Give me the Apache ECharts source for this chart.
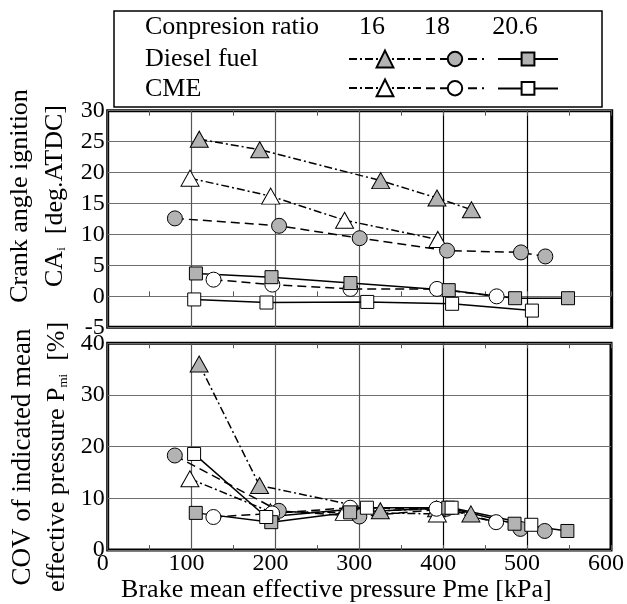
<!DOCTYPE html>
<html>
<head>
<meta charset="utf-8">
<script src="https://cdn.jsdelivr.net/npm/echarts@6/dist/echarts.min.js"></script>
<style>
  html, body { margin: 0; padding: 0; background: #fff; }
  #chart { width: 627px; height: 604px; }
</style>
</head>
<body>
<div id="chart"></div>
<script>
// Pme [kPa] of each test point, per fuel / compression ratio
const pmeD16 = [109, 181, 325, 392, 433];
const pmeC16 = [98, 194, 282, 393];
const pmeD18 = [80, 204, 300, 404, 492, 521];
const pmeC18 = [126, 196, 289, 392, 463];
const pmeD20 = [105, 195, 289, 406, 485, 548];
const pmeC20 = [103, 189, 309, 410, 505];

// crank angle of ignition CAi [deg.ATDC]
const caD16 = [25.4, 23.7, 18.7, 15.9, 14.0];
const caC16 = [19.1, 16.2, 12.3, 9.2];
const caD18 = [12.6, 11.4, 9.4, 7.4, 7.1, 6.45];
const caC18 = [2.7, 1.9, 1.2, 1.2, 0];
const caD20 = [3.7, 3.1, 2.15, 1.0, -0.3, -0.3];
const caC20 = [-0.5, -1.0, -0.9, -1.2, -2.3];

// COV of Pmi [%]
const covD16 = [36.0, 12.5, 7.6, 8.0, 7.0];
const covC16 = [13.8, 7.4, 7.3, 7.0];
const covD18 = [18.3, 7.6, 6.5, 8.0, 4.1, 3.7];
const covC18 = [6.4, 7.1, 8.2, 8.0, 5.4];
const covD20 = [7.2, 5.4, 7.3, 8.2, 5.1, 3.7];
const covC20 = [18.6, 6.4, 8.2, 8.2, 4.9];

const ratioLabels = ["16", "18", "20.6"];
const xTicks = [0, 100, 200, 300, 400, 500, 600];

const FONT = "Liberation Serif";
const GRAY = "#b3b3b3";

// 線種・マーカー（圧縮比ごと）
const styles = {
  "16": { symbol: "triangle", size: [18, 16], dash: [8, 3, 2, 3], legendW: 72, legendH: 21 },
  "18": { symbol: "circle", size: 15, dash: [9, 5], legendW: 58, legendH: 18 },
  "20.6": { symbol: "rect", size: 13, dash: "solid", legendW: 60, legendH: 16 },
};

const makeSeries = (name, ratio, fill, xs, ys, gridIdx) => {
  const st = styles[ratio];
  return {
    name: name,
    type: "line",
    xAxisIndex: gridIdx * 2,
    yAxisIndex: gridIdx,
    data: xs.map((x, i) => [x, ys[i]]),
    symbol: st.symbol,
    symbolSize: st.size,
    showAllSymbol: true,
    lineStyle: { color: "#000", width: 1.5, type: st.dash },
    itemStyle: { color: fill, borderColor: "#000", borderWidth: 1 },
    animation: false,
  };
};

const seriesDefs = [
  ["Diesel 16", "16", GRAY, pmeD16, caD16, covD16],
  ["CME 16", "16", "#fff", pmeC16, caC16, covC16],
  ["Diesel 18", "18", GRAY, pmeD18, caD18, covD18],
  ["CME 18", "18", "#fff", pmeC18, caC18, covC18],
  ["Diesel 20.6", "20.6", GRAY, pmeD20, caD20, covD20],
  ["CME 20.6", "20.6", "#fff", pmeC20, caC20, covC20],
];

const series = [];
seriesDefs.forEach((d) => series.push(makeSeries(d[0], d[1], d[2], d[3], d[4], 0)));
seriesDefs.forEach((d) => series.push(makeSeries(d[0], d[1], d[2], d[3], d[5], 1)));

// 凡例：圧縮比ごとに縦2段（Diesel / CME）
const legendLeft = [348, 425, 497];
const legends = ratioLabels.map((r, i) => {
  const st = styles[r];
  return {
    orient: "vertical",
    left: legendLeft[i],
    top: 59 - st.legendH / 2,
    padding: 0,
    itemGap: 30 - st.legendH,
    itemWidth: st.legendW,
    itemHeight: st.legendH,
    selectedMode: false,
    data: ["Diesel " + r, "CME " + r],
    formatter: () => "",
    textStyle: { fontSize: 1 },
  };
});

const xAxisFor = (gridIdx, showLabel) => [
  {
    gridIndex: gridIdx,
    type: "value",
    min: 0,
    max: 600,
    interval: 100,
    axisLine: { show: false },
    axisTick: { show: true, inside: true, length: 5, lineStyle: { color: "#555" } },
    minorTick: { show: true, splitNumber: 2, length: 5, lineStyle: { color: "#555" } },
    splitLine: {
      show: true,
      lineStyle: { color: ["#555", "#555", "#555", "#555", "#000", "#000", "#000"], width: 1.2 },
    },
    axisLabel: {
      show: showLabel,
      fontFamily: FONT,
      fontSize: 24,
      color: "#000",
      margin: 2,
      padding: [0, 10, 0, 0],
      formatter: (v) => (xTicks.includes(v) ? String(v) : ""),
    },
    name: showLabel ? "Brake mean effective pressure Pme [kPa]" : "",
    nameLocation: "middle",
    nameGap: 16,
    nameTextStyle: { fontFamily: FONT, fontSize: 26, color: "#000", padding: [0, 46, 0, 0] },
  },
  {
    gridIndex: gridIdx,
    type: "value",
    position: "top",
    min: 0,
    max: 600,
    interval: 100,
    axisLine: { show: false },
    axisTick: { show: true, inside: true, length: 5, lineStyle: { color: "#555" } },
    minorTick: { show: true, splitNumber: 2, length: 5, lineStyle: { color: "#555" } },
    splitLine: { show: false },
    axisLabel: { show: false },
  },
];

const yAxisFor = (gridIdx, min, max, interval) => ({
  gridIndex: gridIdx,
  type: "value",
  min: min,
  max: max,
  interval: interval,
  axisLine: { show: false },
  axisTick: { show: false },
  splitLine: { show: true, lineStyle: { color: "#6e6e6e", width: 1.2 } },
  axisLabel: { fontFamily: FONT, fontSize: 24, color: "#000", margin: 3 },
});

const textEl = (text, x, y, opts = {}) => ({
  type: "text",
  x: x,
  y: y,
  rotation: opts.rotation || 0,
  z: 10,
  style: {
    text: text,
    font: (opts.size || 26) + "px '" + FONT + "'",
    fill: "#000",
    align: opts.align || "center",
    verticalAlign: "middle",
    rich: {
      sub: { fontFamily: FONT, fontSize: 13, verticalAlign: "bottom", padding: [12, 0, 0, 0] },
    },
  },
});

const chart = echarts.init(document.getElementById("chart"), null, { renderer: "canvas" });

chart.setOption({
  backgroundColor: "#fff",
  animation: false,
  textStyle: { fontFamily: FONT },
  grid: [
    { left: 107.7, top: 110.7, width: 504, height: 216.6, show: true, borderColor: "#000", borderWidth: 3, backgroundColor: "transparent" },
    { left: 107.7, top: 343.3, width: 504, height: 216.7, show: true, borderColor: "#000", borderWidth: 3, backgroundColor: "transparent" },
  ],
  xAxis: [...xAxisFor(0, false), ...xAxisFor(1, true)],
  yAxis: [yAxisFor(0, -5, 30, 5), yAxisFor(1, 0, 40, 10)],
  legend: legends,
  graphic: [
    {
      type: "rect",
      z: 0,
      shape: { x: 114, y: 11, width: 488, height: 96 },
      style: { fill: "#fff", stroke: "#000", lineWidth: 1.5 },
    },
    textEl("Conpresion ratio", 145, 27, { align: "left" }),
    textEl(ratioLabels[0], 372, 27),
    textEl(ratioLabels[1], 437, 27),
    textEl(ratioLabels[2], 515, 27),
    textEl("Diesel fuel", 145, 59, { align: "left" }),
    textEl("CME", 145, 89, { align: "left" }),
    textEl("Crank angle ignition", 20, 196, { rotation: Math.PI / 2 }),
    textEl("CA{sub|i}  [deg.ATDC]", 55, 196, { rotation: Math.PI / 2 }),
    textEl("COV of indicated mean", 23, 457, { rotation: Math.PI / 2, size: 27 }),
    textEl("effective pressure P{sub|mi}  [%]", 57, 457, { rotation: Math.PI / 2 }),
  ],
  series: series,
});
</script>
</body>
</html>
